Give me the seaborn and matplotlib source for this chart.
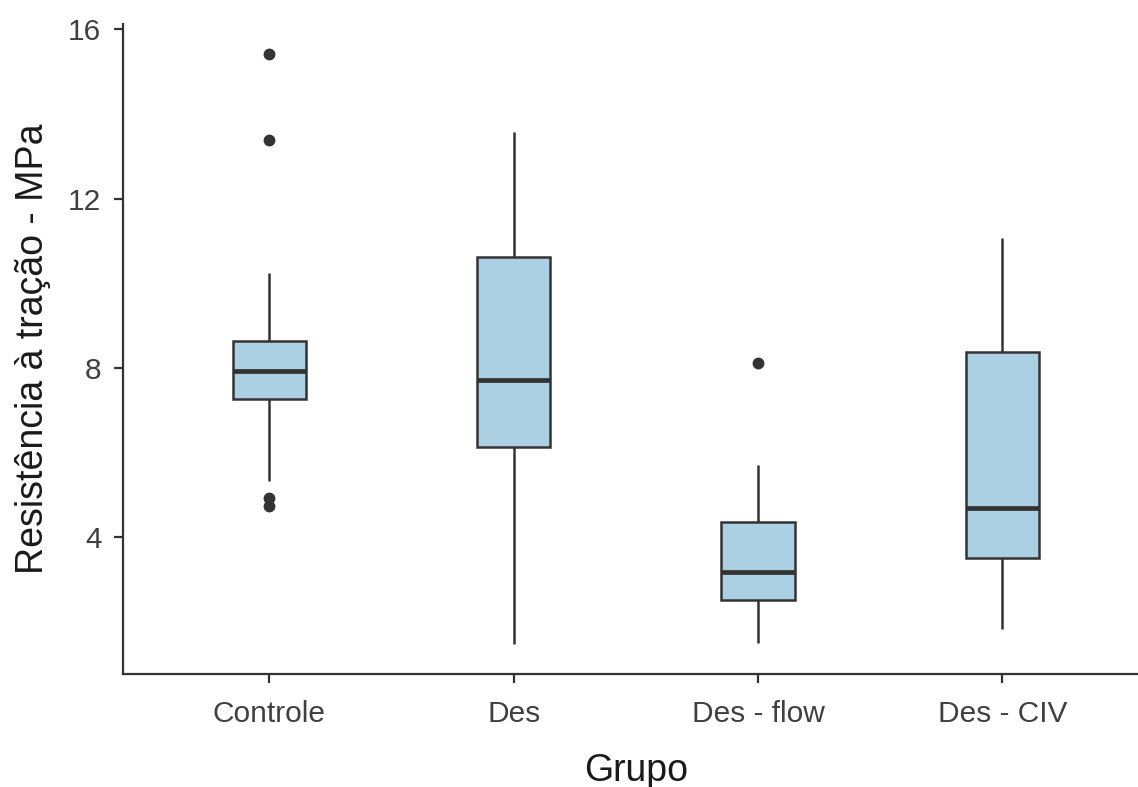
import pandas as pd
import matplotlib.pyplot as plt
import seaborn as sns

# values (each group built to give its box stats)
grupos = ['Controle', 'Des', 'Des - flow', 'Des - CIV']
controle = [4.74, 4.93, 5.33, 7.26, 7.5, 7.7, 7.92, 8.1, 8.35, 8.63, 10.25, 13.38, 15.43]
des = [1.47, 4.6, 6.13, 7.0, 7.71, 9.2, 10.63, 12.1, 13.57]
des_flow = [1.50, 2.0, 2.53, 2.9, 3.17, 3.8, 4.37, 5.71, 8.13]
des_civ = [1.83, 2.8, 3.52, 4.1, 4.70, 6.5, 8.37, 9.8, 11.08]

df = pd.DataFrame({
    'Grupo': ['Controle'] * len(controle) + ['Des'] * len(des)
             + ['Des - flow'] * len(des_flow) + ['Des - CIV'] * len(des_civ),
    'valor': controle + des + des_flow + des_civ,
})

sns.set_theme(style="ticks")
plt.rcParams['font.family'] = ['Liberation Sans', 'DejaVu Sans']

line_col = '#333333'
fig = plt.figure(figsize=(11.38, 7.87), dpi=100)
ax = fig.add_axes([0.108, 0.1436, 0.9017, 0.8259])

sns.boxplot(data=df, x='Grupo', y='valor', order=grupos, ax=ax,
            color='#abd0e4', saturation=1, width=0.3, showcaps=False,
            linecolor=line_col, linewidth=1.8,
            medianprops=dict(linewidth=3.4, color=line_col),
            flierprops=dict(marker='o', markersize=7.5, markerfacecolor=line_col,
                            markeredgecolor=line_col))

lo, hi = df['valor'].min(), df['valor'].max()
pad = (hi - lo) * 0.05
ax.set_ylim(lo - pad, hi + pad)
ax.set_xlim(-0.6, 3.6)
ax.set_yticks([4, 8, 12, 16])

sns.despine(ax=ax)
for side in ['left', 'bottom']:
    ax.spines[side].set_color(line_col)
    ax.spines[side].set_linewidth(1.6)
ax.tick_params(axis='both', colors=line_col, width=1.6, length=6.5,
               labelsize=21.5, labelcolor='#404040')
ax.tick_params(axis='x', pad=12)
ax.tick_params(axis='y', pad=9)

ax.set_xlabel('Grupo', fontsize=27, color='#1a1a1a', labelpad=18)
ax.set_ylabel('Resistência à tração - MPa', fontsize=27, color='#1a1a1a', labelpad=12)

fig.savefig('out.png', dpi=100)
